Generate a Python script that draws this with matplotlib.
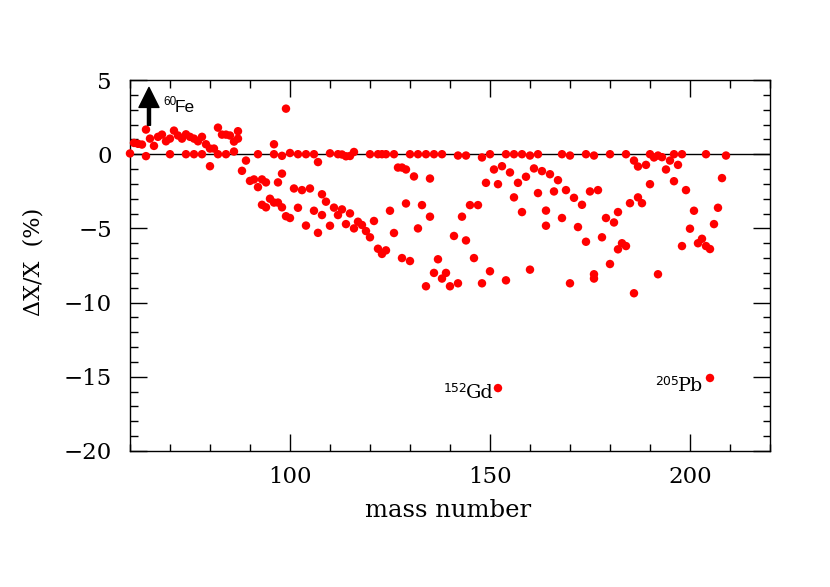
import matplotlib
matplotlib.use('Agg')
import matplotlib.pyplot as plt
from matplotlib.ticker import MultipleLocator

# mass numbers and deviations (%) of each plotted isotope
mass = [60, 61, 62, 63, 64, 64, 65, 66, 67, 68, 69, 70, 70, 71, 72, 73, 74, 74,
        75, 76, 76, 77, 78, 78, 79, 80, 80, 81, 82, 82, 83, 84, 84, 85, 86, 86,
        87, 87, 88, 89, 90, 91, 92, 92, 93, 93, 94, 94, 95, 96, 96, 96, 97, 97,
        98, 98, 98, 99, 99, 100, 100, 101, 102, 102, 103, 104, 104, 105, 106, 106,
        107, 107, 108, 108, 109, 110, 110, 111, 112, 112, 113, 113, 114, 114,
        115, 115, 116, 116, 117, 118, 119, 120, 120, 121, 122, 122, 123, 123,
        124, 124, 125, 126, 126, 127, 128, 128, 129, 129, 130, 130, 131, 132, 132,
        133, 134, 134, 135, 135, 136, 136, 137, 138, 138, 139, 140, 141, 142, 142,
        143, 144, 144, 145, 146, 147, 148, 148, 149, 150, 150, 151, 152, 153,
        154, 154, 155, 156, 156, 157, 158, 158, 159, 160, 160, 161, 162, 162,
        163, 164, 164, 165, 166, 167, 168, 168, 169, 170, 170, 171, 172, 173,
        174, 174, 175, 176, 176, 176, 177, 178, 179, 180, 180, 181, 182, 182,
        183, 184, 184, 185, 186, 186, 187, 187, 188, 189, 190, 190, 191, 192, 192,
        193, 194, 195, 196, 196, 197, 198, 198, 199, 200, 201, 202, 203, 204, 204,
        205, 206, 207, 208, 209]
dev = [0.05, 0.76, 0.70, 0.65, 1.66, -0.13, 1.05, 0.56, 1.17, 1.32, 0.87, 1.05, 0.0, 1.59, 1.26, 1.05, 1.34, 0.0,
       1.17, 1.05, 0.0, 0.87, 1.17, 0.0, 0.67, 0.38, -0.81, 0.38, 1.79, 0.0, 1.32, 1.32, 0.0, 1.26, 0.85, 0.18,
       1.55, 1.05, -1.12, -0.43, -1.80, -1.70, 0.0, -2.22, -1.70, -3.41, -1.90, -3.58, -3.00, 0.67, 0.0, -3.26, -1.90, -3.26,
       -0.11, -1.31, -3.58, 3.07, -4.18, 0.08, -4.30, -2.31, 0.0, -3.61, -2.42, 0.0, -4.81, -2.31, 0.0, -3.81,
       -0.53, -5.30, -2.70, -4.10, -3.20, 0.06, -4.82, -3.60, 0.0, -4.10, -0.02, -3.72, -0.14, -4.71,
       -0.12, -3.99, 0.15, -5.00, -4.55, -4.77, -5.18, 0.0, -5.60, -4.50, 0.0, -6.37, 0.0, -6.72,
       0.0, -6.48, -3.81, 0.0, -5.31, -0.90, -0.90, -7.00, -1.03, -3.32, 0.0, -7.20, -1.50, 0.0, -5.00,
       -3.43, 0.0, -8.90, -1.64, -4.21, 0.0, -8.00, -7.08, 0.0, -8.38, -8.00, -8.90, -5.51, -0.09, -8.70,
       -4.21, -0.09, -5.81, -3.43, -7.00, -3.43, -0.22, -8.70, -1.93, 0.0, -7.89, -1.03, -2.02, -0.81,
       0.0, -8.50, -1.23, 0.0, -2.91, -1.93, 0.0, -3.90, -1.52, -0.09, -7.78, -0.96, 0.0, -2.62,
       -1.14, -3.80, -4.82, -1.35, -2.51, -1.75, 0.0, -4.30, -2.42, -0.09, -8.70, -2.94, -4.91, -3.41,
       0.0, -5.90, -2.51, -0.09, -8.09, -8.38, -2.42, -5.60, -4.30, 0.0, -7.40, -4.60, -3.90, -6.41,
       -6.00, 0.0, -6.19, -3.30, -0.43, -9.37, -0.83, -2.91, -3.30, -0.72, 0.0, -2.02, -0.22, -0.09, -8.09,
       -0.20, -1.03, -0.43, 0.0, -1.82, -0.72, 0.0, -6.19, -2.42, -5.02, -3.81, -6.00, -5.70, 0.0, -6.19,
       -6.39, -4.71, -3.61, -1.61, -0.09]

# labelled outliers
special_mass = [152, 205]
special_dev = [-15.76, -15.08]
special_num = ['152', '205']
special_sym = ['Gd', 'Pb']

x_ticks = [100, 150, 200]
y_ticks = [5, 0, -5, -10, -15, -20]

fig = plt.figure(figsize=(8.3, 5.87), dpi=100)
ax = fig.add_axes([0.1566, 0.2317, 0.7711, 0.632])

ax.axhline(0, color='black', lw=1.0, zorder=1)
ax.scatter(mass + special_mass, dev + special_dev, s=37, c='#ff0000',
           edgecolors='none', zorder=3, clip_on=False)

ax.set_xlim(60, 220)
ax.set_ylim(-20, 5)
ax.set_xticks(x_ticks)
ax.set_yticks(y_ticks)
ax.xaxis.set_minor_locator(MultipleLocator(10))
ax.yaxis.set_minor_locator(MultipleLocator(1))
ax.tick_params(which='both', direction='in', top=True, right=True, width=1.0)
ax.tick_params(which='major', length=12.2)
ax.tick_params(which='minor', length=5.4)
ax.tick_params(axis='x', which='major', pad=10.5)
ax.tick_params(axis='y', which='major', pad=13)
for sp in ax.spines.values():
    sp.set_linewidth(1.0)

for lab in ax.get_xticklabels() + ax.get_yticklabels():
    lab.set_fontfamily('DejaVu Serif')
    lab.set_fontsize(16.5)

ax.set_xlabel('mass number', fontfamily='DejaVu Serif', fontsize=17.5)
ax.xaxis.set_label_coords(0.4975, -0.129)
ax.set_ylabel('ΔX/X  (%)', fontfamily='DejaVu Serif', fontsize=16)
ax.yaxis.set_label_coords(-0.133, 0.51)

# 60Fe arrow and label
ax.annotate('', xy=(64.75, 4.5), xytext=(64.75, 1.95),
            arrowprops=dict(facecolor='black', edgecolor='black', width=2.2,
                            headwidth=14.4, headlength=14.4, shrink=0),
            annotation_clip=False)
ax.text(68.3, 3.34, '60', fontfamily='Liberation Sans', fontsize=8.5,
        ha='left', va='baseline')
ax.text(71.25, 2.84, 'Fe', fontfamily='Liberation Sans', fontsize=12.5,
        ha='left', va='baseline')

# Gd and Pb labels
num_pos = [(138.3, -16.05), (191.25, -15.53)]
sym_pos = [(143.9, -16.43), (197.1, -15.98)]
for n, s, (nx, ny), (sx, sy) in zip(special_num, special_sym, num_pos, sym_pos):
    ax.text(nx, ny, n, fontfamily='DejaVu Sans', fontsize=9, ha='left', va='baseline')
    ax.text(sx, sy, s, fontfamily='DejaVu Serif', fontsize=13.8, ha='left', va='baseline')

fig.savefig('out.png', dpi=100)
